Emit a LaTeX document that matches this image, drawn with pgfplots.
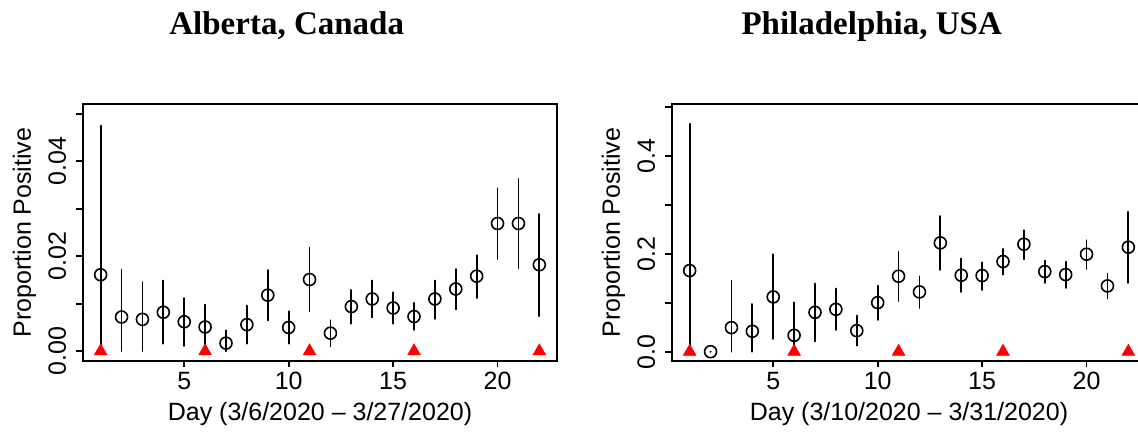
\documentclass[border=0pt]{standalone}
\usepackage{pgfplots}
\pgfplotsset{compat=1.18}
\usepackage{pgfplotstable}
\usepackage{fontspec}
\setmainfont{Liberation Sans}
\newfontfamily\titlefont{Liberation Serif}

\pgfplotstableread{
x y lo hi
1 0.0161 0.0000 0.0475
2 0.0072 0.0000 0.0172
3 0.0067 0.0000 0.0145
4 0.0082 0.0016 0.0149
5 0.0062 0.0011 0.0112
6 0.0051 0.0009 0.0098
7 0.0017 0.0000 0.0044
8 0.0056 0.0016 0.0096
9 0.0118 0.0065 0.0171
10 0.0050 0.0016 0.0084
11 0.0151 0.0084 0.0218
12 0.0038 0.0010 0.0065
13 0.0094 0.0058 0.0129
14 0.0110 0.0071 0.0149
15 0.0091 0.0058 0.0124
16 0.0073 0.0045 0.0102
17 0.0110 0.0068 0.0149
18 0.0131 0.0088 0.0173
19 0.0158 0.0112 0.0202
20 0.0269 0.0194 0.0343
21 0.0269 0.0175 0.0363
22 0.0182 0.0074 0.0289
}\alberta

\pgfplotstableread{
x y lo hi
1 0.1656 0.0000 0.4654
2 0.0000 0.0000 0.0000
3 0.0491 0.0000 0.1451
4 0.0416 0.0000 0.0974
5 0.1118 0.0259 0.1990
6 0.0334 0.0000 0.1009
7 0.0804 0.0211 0.1390
8 0.0865 0.0443 0.1288
9 0.0429 0.0123 0.0736
10 0.1002 0.0647 0.1349
11 0.1540 0.1029 0.2038
12 0.1220 0.0893 0.1540
13 0.2221 0.1670 0.2767
14 0.1560 0.1220 0.1901
15 0.1554 0.1261 0.1826
16 0.1840 0.1574 0.2099
17 0.2194 0.1888 0.2480
18 0.1635 0.1404 0.1860
19 0.1574 0.1302 0.1840
20 0.1990 0.1690 0.2276
21 0.1342 0.1083 0.1595
22 0.2133 0.1404 0.2855
}\philly

\pgfplotstableread{
x y
1 0
6 0
11 0
16 0
22 0
}\markers

\pgfplotsset{
  panel/.style={
    scale only axis, width=474.6bp, height=256.4bp,
    xmin=0.14, xmax=22.86,
    xtick={5,10,15,20},
    xtick pos=left, ytick pos=left,
    tick align=outside,
    scaled y ticks=false, scaled x ticks=false,
    major tick length=6.5bp, minor tick length=6.5bp,
    axis line style={line width=1.8bp, black},
    every tick/.style={black, line width=1.8bp},
    every minor tick/.style={black, line width=1.8bp},
    /pgf/number format/assume math mode=true,
    tick label style={font=\fontsize{25bp}{30bp}\selectfont},
    yticklabel style={anchor=south, inner sep=0pt, xshift=-10bp, rotate=90},
    xticklabel style={anchor=north, inner sep=0pt, yshift=-5bp},
    every axis x label/.style={at={(axis description cs:0.5,-0.235)}, anchor=base, inner sep=0pt, font=\fontsize{25bp}{30bp}\selectfont},
    every axis y label/.style={at={(axis description cs:-0.098,0.5)}, rotate=90, anchor=south, inner sep=0pt, font=\fontsize{25bp}{30bp}\selectfont},
    ylabel={Proportion Positive},
    clip=false,
  },
  ci/.style={black, only marks, mark=o, mark size=6bp,
    mark options={line width=1.6bp, black},
    error bars/.cd, y dir=both, y explicit, error mark=none,
    error bar style={line width=1.8bp, black, line cap=round}},
  tri/.style={only marks, mark=triangle*, mark size=7.5bp, color=red, mark options={fill=red, draw=red}},
}

\begin{document}
\begin{tikzpicture}
\useasboundingbox (0,0) rectangle (1138bp,435bp);
\clip (0,0) rectangle (1138bp,435bp);

\begin{axis}[panel, at={(82.7bp,74.3bp)}, anchor=south west,
  ymin=-0.002, ymax=0.052,
  ytick={0,0.02,0.04}, yticklabels={0.00,0.02,0.04},
  minor ytick={0.01,0.03,0.05},
  xlabel={Day (3/6/2020 -- 3/27/2020)}]
\addplot+[ci] table[x=x, y=y, y error plus expr=\thisrow{hi}-\thisrow{y}, y error minus expr=\thisrow{y}-\thisrow{lo}] {\alberta};
\addplot[tri] table[x=x, y=y] {\markers};
\end{axis}

\begin{axis}[panel, at={(671.7bp,74.3bp)}, anchor=south west,
  ymin=-0.0184, ymax=0.505,
  ytick={0,0.2,0.4}, yticklabels={0.0,0.2,0.4},
  minor ytick={0.1,0.3,0.5},
  xlabel={Day (3/10/2020 -- 3/31/2020)}]
\addplot+[ci] table[x=x, y=y, y error plus expr=\thisrow{hi}-\thisrow{y}, y error minus expr=\thisrow{y}-\thisrow{lo}] {\philly};
\addplot[tri] table[x=x, y=y] {\markers};
\end{axis}

\node[anchor=base, inner sep=0pt, font=\titlefont\bfseries\fontsize{33bp}{40bp}\selectfont] at (286.7bp,400bp) {Alberta, Canada};
\node[anchor=base, inner sep=0pt, font=\titlefont\bfseries\fontsize{33bp}{40bp}\selectfont] at (871.7bp,400bp) {Philadelphia, USA};
\end{tikzpicture}
\end{document}
